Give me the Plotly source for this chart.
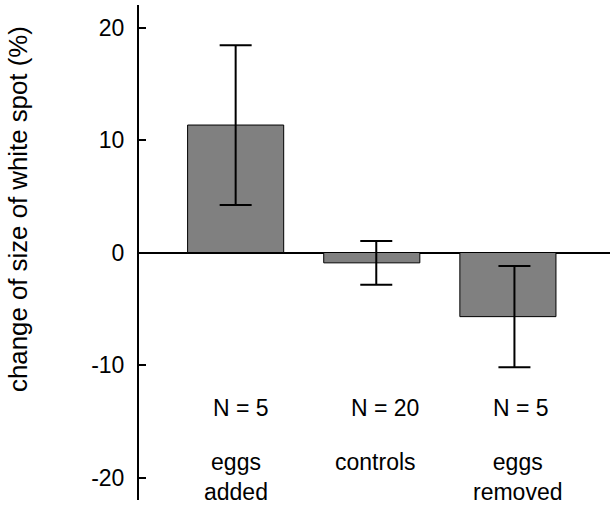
import plotly.graph_objects as go

categories = ["eggs<br>added", "controls", "eggs<br>removed"]
n_labels = ["N = 5", "N = 20", "N = 5"]
means = [11.33, -0.92, -5.7]
errors = [7.1, 1.95, 4.5]
y_ticks = [-20, -10, 0, 10, 20]
y_ticktext = ["-20", "-10", "0", "10", "20"]
y_title = "change of size of white spot (%)"

xpos = list(range(len(categories)))
FONT = "Liberation Sans, Arial, sans-serif"

# small horizontal offsets of the error bars, as in the original figure (style only)
err_offset = [0.0, 0.033, 0.048]

fig = go.Figure()
fig.add_trace(go.Bar(
    x=xpos, y=means, width=0.706,
    marker=dict(color="#808080", line=dict(color="black", width=1)),
    showlegend=False, hoverinfo="skip",
))
fig.add_trace(go.Scatter(
    x=[p + o for p, o in zip(xpos, err_offset)], y=means, mode="markers",
    marker=dict(size=1, color="rgba(0,0,0,0)"),
    error_y=dict(type="data", array=errors, visible=True,
                 color="black", thickness=2, width=16),
    showlegend=False,
))

n_shift = [5, 13, 13]
c_shift = [0, 4, 10]
for i in xpos:
    fig.add_annotation(x=i, y=-13.78, text=n_labels[i], showarrow=False,
                       xshift=n_shift[i], font=dict(size=23, color="black", family=FONT))
    fig.add_annotation(x=i, y=-17.3, text=categories[i], showarrow=False,
                       xshift=c_shift[i], yanchor="top",
                       font=dict(size=23, color="black", family=FONT))

# y-axis title as rotated annotation
fig.add_annotation(xref="paper", yref="paper", x=-0.257, y=0.588, text=y_title,
                   textangle=-90, showarrow=False, xanchor="center", yanchor="middle",
                   font=dict(size=25.8, color="black", family=FONT))

fig.update_layout(
    width=616, height=505,
    margin=dict(l=139, r=6, t=5, b=5),
    plot_bgcolor="white", paper_bgcolor="white",
    font=dict(family=FONT, size=23, color="black"),
    xaxis=dict(range=[-0.71, 2.75], visible=False, showgrid=False, zeroline=False),
    yaxis=dict(range=[-22, 22], tickvals=y_ticks, ticktext=y_ticktext,
               ticks="inside", ticklen=7,
               tickwidth=2, tickcolor="black", showline=True, linecolor="black",
               linewidth=2, showgrid=False, zeroline=True, zerolinecolor="black",
               zerolinewidth=2, ticklabelstandoff=8),
)

fig.write_html("out.html", config={"displayModeBar": False},
               post_script="document.body.style.margin='0px';")
